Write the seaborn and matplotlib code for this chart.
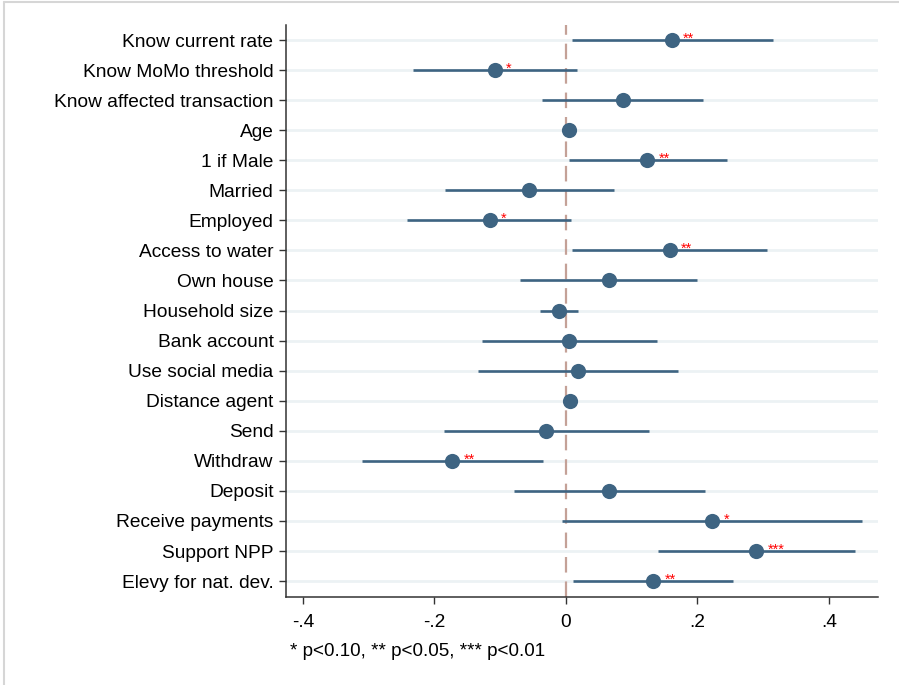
import matplotlib
matplotlib.use("Agg")
import matplotlib.pyplot as plt
import seaborn as sns
import pandas as pd
from matplotlib.lines import Line2D

variables = ["Know current rate", "Know MoMo threshold", "Know affected transaction", "Age",
             "1 if Male", "Married", "Employed", "Access to water", "Own house", "Household size",
             "Bank account", "Use social media", "Distance agent", "Send", "Withdraw", "Deposit",
             "Receive payments", "Support NPP", "Elevy for nat. dev."]
coef = [0.161, -0.108, 0.087, 0.005, 0.124, -0.056, -0.116, 0.158, 0.065, -0.011,
        0.005, 0.018, 0.006, -0.030, -0.173, 0.066, 0.223, 0.290, 0.133]
ci_low = [0.010, -0.233, -0.036, 0.003, 0.004, -0.184, -0.242, 0.010, -0.070, -0.039,
          -0.128, -0.134, 0.004, -0.186, -0.311, -0.079, -0.006, 0.140, 0.011]
ci_high = [0.315, 0.017, 0.209, 0.007, 0.245, 0.073, 0.008, 0.306, 0.199, 0.0185,
           0.139, 0.171, 0.008, 0.126, -0.035, 0.211, 0.451, 0.440, 0.254]
stars = ["**", "*", "", "", "**", "", "*", "**", "", "", "", "", "", "", "**", "", "*", "***", "**"]
xticks = [-0.4, -0.2, 0, 0.2, 0.4]
xticklabels = ["-.4", "-.2", "0", ".2", ".4"]
footnote = "* p<0.10, ** p<0.05, *** p<0.01"

df = pd.DataFrame({"var": variables, "coef": coef, "lo": ci_low, "hi": ci_high, "stars": stars})
df["pos"] = range(len(df))

sns.set_theme(style="white")
plt.rcParams["font.family"] = ["Liberation Sans", "DejaVu Sans"]
plt.rcParams["text.color"] = "black"
plt.rcParams["xtick.color"] = "black"
plt.rcParams["ytick.color"] = "black"

fig = plt.figure(figsize=(8.99, 6.85), dpi=100)
ax = fig.add_axes([286/899, 1-597/685, (878-286)/899, (597-25)/685])

navy = "#3e6482"
for p in df["pos"]:
    ax.axhline(p, color="#ecf2f4", lw=2.0, zorder=0)
ax.axvline(0, color="#c4a197", lw=1.6, dashes=(7, 4), zorder=1)
ax.hlines(df["pos"], df["lo"], df["hi"], color=navy, lw=1.9, zorder=2)
sns.scatterplot(data=df, x="coef", y="pos", ax=ax, color=navy, s=120, edgecolor=navy,
                linewidth=0, zorder=3, legend=False)
for _, r in df.iterrows():
    if r["stars"]:
        ax.annotate(r["stars"], (r["coef"], r["pos"]), xytext=(8, 1), textcoords="offset points",
                    color="red", fontsize=10.5, ha="left", va="center")

ax.set_xlim(-0.426, 0.475)
ax.set_ylim(18.53, -0.5)
ax.set_yticks(df["pos"])
ax.set_yticklabels(df["var"])
ax.set_xticks(xticks)
ax.set_xticklabels(xticklabels)
ax.set_xlabel("")
ax.set_ylabel("")
for s in ["top", "right"]:
    ax.spines[s].set_visible(False)
for s in ["left", "bottom"]:
    ax.spines[s].set_color("#333333")
    ax.spines[s].set_linewidth(1.1)
ax.tick_params(axis="y", length=5, width=1.0, color="#333333", pad=4, labelsize=13.8,
               labelcolor="black", direction="out", left=True)
ax.tick_params(axis="x", length=5, width=1.0, color="#333333", pad=7, labelsize=13.8,
               labelcolor="black", direction="out", bottom=True)

fig.text(290/899, 1-652/685, footnote, fontsize=13.6, ha="left", va="center", color="black")

fig.add_artist(Line2D([4/899, 4/899], [0, 1-2/685], color="#d6d6d6", lw=1.5))
fig.add_artist(Line2D([4/899, 1], [1-2/685, 1-2/685], color="#d6d6d6", lw=1.5))

fig.savefig("out.png", dpi=100)
